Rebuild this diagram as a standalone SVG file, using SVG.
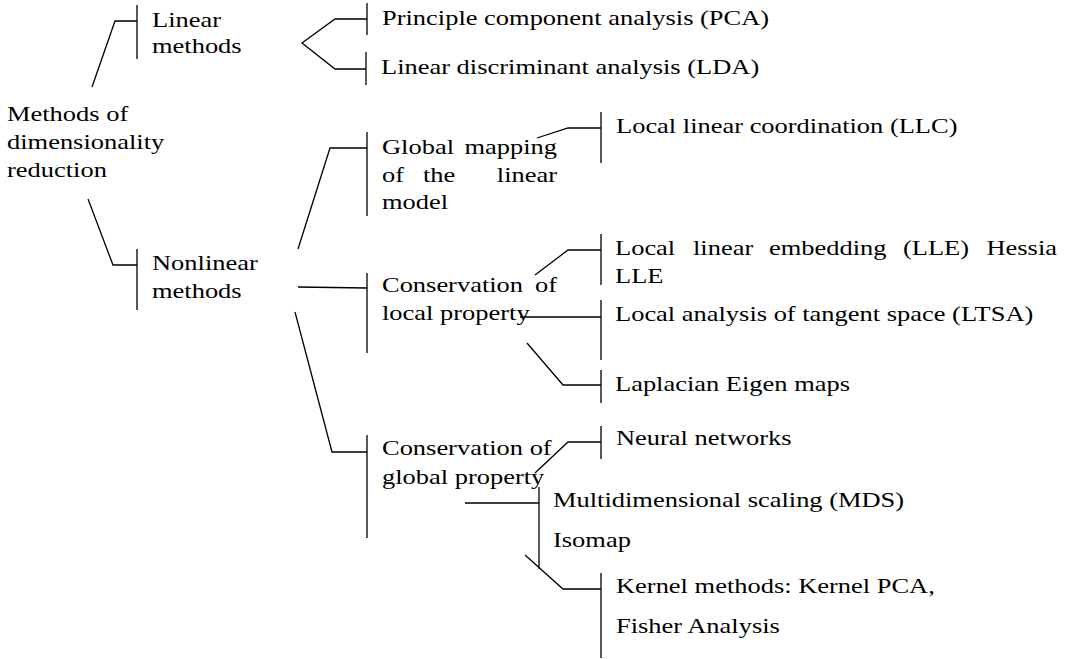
<svg xmlns="http://www.w3.org/2000/svg" width="1076" height="659" viewBox="0 0 1076 659">
<style>
  text { font-family: "Liberation Serif", "Times New Roman", serif; font-size: 21px; fill: #000; }
  .e { text-anchor: end; }
  .c line, .c polyline { stroke: #000; stroke-width: 1.3; fill: none; }
</style>
<rect width="1076" height="659" fill="#fff"/>
<g class="c" id="connectors">
  <!-- root branches -->
  <polyline points="92,87 115,21 137,21"/>
  <line x1="137" y1="5" x2="137" y2="59"/>
  <polyline points="88,199 113,265 137,265"/>
  <line x1="137" y1="249" x2="137" y2="310"/>
  <!-- linear branches -->
  <polyline points="367,19 335,19 302,43 335,69 366,69"/>
  <line x1="367" y1="3" x2="367" y2="35"/>
  <line x1="366" y1="52" x2="366" y2="85"/>
  <!-- nonlinear branches -->
  <polyline points="298,249 330,148 367,148"/>
  <line x1="367" y1="132" x2="367" y2="216"/>
  <line x1="298" y1="287" x2="367" y2="288"/>
  <line x1="367" y1="273" x2="367" y2="353"/>
  <polyline points="295,312 332,452 367,452"/>
  <line x1="367" y1="435" x2="367" y2="538"/>
  <!-- global mapping -->
  <polyline points="537,138 568,128 601,128"/>
  <line x1="601" y1="112" x2="601" y2="163"/>
  <!-- local property -->
  <polyline points="535,275 568,250 601,250"/>
  <line x1="601" y1="234" x2="601" y2="285"/>
  <line x1="520" y1="317" x2="601" y2="317"/>
  <line x1="601" y1="300" x2="601" y2="360"/>
  <polyline points="527,343 563,385 601,385"/>
  <line x1="601" y1="370" x2="601" y2="403"/>
  <!-- global property -->
  <polyline points="535,473 568,442 601,442"/>
  <line x1="601" y1="426" x2="601" y2="459"/>
  <line x1="465" y1="503" x2="539" y2="503"/>
  <line x1="539" y1="487" x2="539" y2="569"/>
  <polyline points="525,555 563,589 601,589"/>
  <line x1="601" y1="573" x2="601" y2="658"/>
</g>
<g id="root">
  <text transform="translate(7,121) scale(1.26,1)">Methods of</text>
  <text transform="translate(7,149) scale(1.26,1)">dimensionality</text>
  <text transform="translate(7,177) scale(1.26,1)">reduction</text>
</g>
<g id="linear">
  <text transform="translate(152,27) scale(1.26,1)">Linear</text>
  <text transform="translate(152,53) scale(1.26,1)">methods</text>
</g>
<g id="nonlinear">
  <text transform="translate(152,270) scale(1.26,1)">Nonlinear</text>
  <text transform="translate(152,298) scale(1.26,1)">methods</text>
</g>
<g id="pca">
  <text transform="translate(382,25) scale(1.26,1)">Principle component analysis (PCA)</text>
</g>
<g id="lda">
  <text transform="translate(381,74) scale(1.26,1)">Linear discriminant analysis (LDA)</text>
</g>
<g id="global-mapping">
  <text transform="translate(382,154) scale(1.26,1)">Global</text>
  <text class="e" transform="translate(557,154) scale(1.26,1)">mapping</text>
  <text transform="translate(382,182) scale(1.26,1)">of</text>
  <text transform="translate(423,182) scale(1.26,1)">the</text>
  <text class="e" transform="translate(557,182) scale(1.26,1)">linear</text>
  <text transform="translate(382,209) scale(1.26,1)">model</text>
</g>
<g id="local-property">
  <text transform="translate(382,292) scale(1.26,1)">Conservation</text>
  <text class="e" transform="translate(557,292) scale(1.26,1)">of</text>
  <text transform="translate(382,320) scale(1.26,1)">local property</text>
</g>
<g id="global-property">
  <text transform="translate(382,455) scale(1.26,1)">Conservation of</text>
  <text transform="translate(382,484) scale(1.26,1)">global property</text>
</g>
<g id="llc">
  <text transform="translate(616,133) scale(1.26,1)">Local linear coordination (LLC)</text>
</g>
<g id="lle">
  <text transform="translate(615,255) scale(1.26,1)">Local</text>
  <text transform="translate(693,255) scale(1.26,1)">linear</text>
  <text transform="translate(769,255) scale(1.26,1)">embedding</text>
  <text transform="translate(903,255) scale(1.26,1)">(LLE)</text>
  <text class="e" transform="translate(1057,255) scale(1.26,1)">Hessia</text>
  <text transform="translate(615,283) scale(1.26,1)">LLE</text>
</g>
<g id="ltsa">
  <text transform="translate(615,321) scale(1.26,1)">Local analysis of tangent space (LTSA)</text>
</g>
<g id="laplacian">
  <text transform="translate(615,391) scale(1.26,1)">Laplacian Eigen maps</text>
</g>
<g id="neural">
  <text transform="translate(616,445) scale(1.26,1)">Neural networks</text>
</g>
<g id="mds">
  <text transform="translate(553,507) scale(1.26,1)">Multidimensional scaling (MDS)</text>
  <text transform="translate(553,547) scale(1.26,1)">Isomap</text>
</g>
<g id="kernel">
  <text transform="translate(616,593) scale(1.26,1)">Kernel methods: Kernel PCA,</text>
  <text transform="translate(616,633) scale(1.26,1)">Fisher Analysis</text>
</g>
</svg>
